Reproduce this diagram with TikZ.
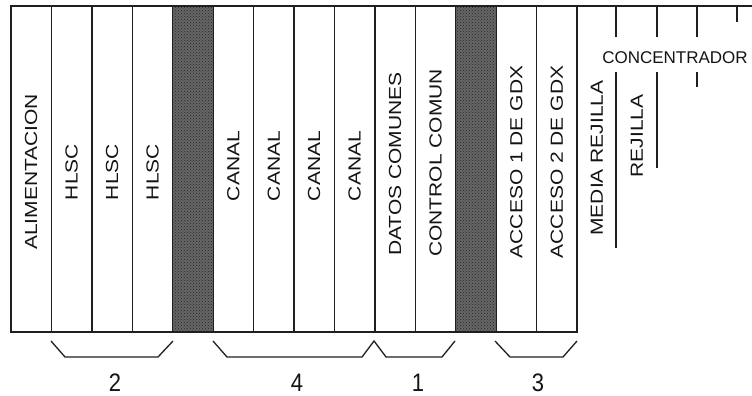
\documentclass[tikz,border=0pt]{standalone}
\usepackage{graphicx}
\usepackage{fontspec}
\setmainfont{Liberation Sans}
\usetikzlibrary{patterns}
\newcommand\vtxt[1]{\scalebox{1.2}[1]{#1}}
\begin{document}
\begin{tikzpicture}[x=1pt,y=-1pt,
  frame/.style={line width=1.7pt, draw=black!88},
  sepline/.style={line width=1.3pt, draw=black!88},
  darkcol/.style={fill=black!60},
  vlabel/.style={rotate=90, font=\fontsize{17.5}{20}\selectfont, text=black!92, inner sep=0pt},
  hlabel/.style={font=\fontsize{17}{20}\selectfont, text=black!92, inner sep=0pt},
  numlabel/.style={font=\fontsize{22}{24}\selectfont, text=black!92, inner sep=0pt}]
\useasboundingbox (0,0) rectangle (752,396);
\fill[white] (0,0) rectangle (752,396);
% dark columns
\fill[darkcol] (172.7,6) rectangle (213.2,332);
\fill[darkcol] (455.7,6) rectangle (496.2,332);
\fill[pattern=crosshatch dots, pattern color=black!85] (172.7,6) rectangle (213.2,332);
\fill[pattern=crosshatch dots, pattern color=black!85] (455.7,6) rectangle (496.2,332);
% separators
\foreach \i in {1,...,13} \draw[sepline] ({11+40.43*\i},6) -- ({11+40.43*\i},332);
% frame
\draw[frame] (752,6) -- (11,6) -- (11,332) -- (577,332) -- (577,6);
% column labels
\node[vlabel] (alim) at (31.2,172) {\vtxt{ALIMENTACION}};
\node[vlabel] (h1) at (71.6,172) {\vtxt{HLSC}};
\node[vlabel] (h2) at (112.1,172) {\vtxt{HLSC}};
\node[vlabel] (h3) at (152.5,172) {\vtxt{HLSC}};
\node[vlabel] (c1) at (233.4,166) {\vtxt{CANAL}};
\node[vlabel] (c2) at (273.8,166) {\vtxt{CANAL}};
\node[vlabel] (c3) at (314.2,166) {\vtxt{CANAL}};
\node[vlabel] (c4) at (354.7,166) {\vtxt{CANAL}};
\node[vlabel] (datos) at (395.1,164) {\vtxt{DATOS COMUNES}};
\node[vlabel] (ctrl) at (435.5,163) {\vtxt{CONTROL COMUN}};
\node[vlabel] (acc1) at (516.4,162) {\vtxt{ACCESO 1 DE GDX}};
\node[vlabel] (acc2) at (556.8,162) {\vtxt{ACCESO 2 DE GDX}};
% right part
\node[vlabel] (media) at (597,158) {\vtxt{MEDIA REJILLA}};
\node[vlabel] (rej) at (637,136) {\vtxt{REJILLA}};
\node[hlabel] (conc) at (675,58) {CONCENTRADOR};
\draw[sepline] (616,6) -- (616,37);
\draw[sepline] (657,6) -- (657,37);
\draw[sepline] (697,6) -- (697,37);
\draw[sepline] (737,6) -- (737,22);
\draw[sepline] (616,72) -- (616,248);
\draw[sepline] (657,72) -- (657,168);
\draw[sepline] (697,72) -- (697,87);
% braces
\draw[sepline] (51,341) -- (65,357) -- (158,357) -- (173,341);
\draw[sepline] (213,341) -- (227,357) -- (362,357) -- (374,341) -- (386,357) -- (442,357) -- (455,341);
\draw[sepline] (495,341) -- (510,357) -- (563,357) -- (577,341);
% numbers
\node[numlabel] (n2) at (115,383) {\scalebox{1}[1.15]{2}};
\node[numlabel] (n4) at (297,383) {\scalebox{1}[1.15]{4}};
\node[numlabel] (n1) at (418,383) {\scalebox{1}[1.15]{1}};
\node[numlabel] (n3) at (538,383) {\scalebox{1}[1.15]{3}};
\end{tikzpicture}
\end{document}
